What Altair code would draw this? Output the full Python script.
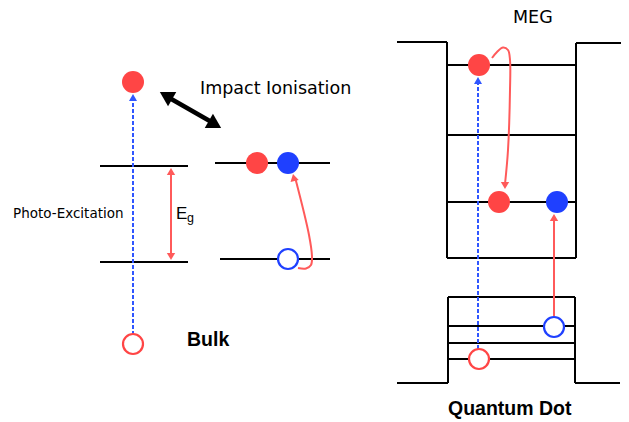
import altair as alt
import pandas as pd

RED = "#ff4545"
RED_LINE = "#ff5a5a"
BLUE = "#1f40ff"
BLUE_LINE = "#3056ff"

# ---- black energy levels and quantum-well walls (x1, y1, x2, y2) ----
lvl_x1 = [100, 100, 215, 220, 397, 447, 576, 576, 447, 447, 447, 447, 448, 448, 448, 448, 448, 575, 397, 575]
lvl_y1 = [166, 262, 163, 259, 42, 42, 43, 43, 65, 135, 202, 258, 297, 326, 343, 359, 297, 297, 383, 383]
lvl_x2 = [188, 188, 330, 330, 447, 447, 576, 628, 576, 576, 576, 576, 575, 575, 575, 575, 448, 575, 448, 620]
lvl_y2 = [166, 262, 163, 259, 42, 258, 258, 43, 65, 135, 202, 258, 297, 326, 343, 359, 383, 383, 383, 383]

# ---- photo-excitation (blue dashed) ----
pe_x1 = [133, 478]
pe_y1 = [335, 349]
pe_x2 = [133, 478]
pe_y2 = [98, 81]

# ---- straight red arrows (band gap, QD excitation) ----
rs_x1 = [171, 554]
rs_y1 = [172, 316]
rs_x2 = [171, 554]
rs_y2 = [256, 219]

# ---- curved red arrows ----
cv_path = ["imp"] * 6 + ["qd"] * 8
cv_seq = list(range(6)) + list(range(8))
cv_x = [298, 306, 311, 312, 309, 295.5]
cv_x += [492, 497, 503, 508, 510, 510, 508, 505]
cv_y = [268, 268.5, 265, 257, 235, 179]
cv_y += [58, 52, 47.5, 50, 60, 90, 150, 184]

# ---- impact ionisation double arrow ----
ii_x1 = [166]
ii_y1 = [96]
ii_x2 = [215]
ii_y2 = [124]
ii_hx = [166, 215]
ii_hy = [95.5, 124.5]
ii_ang = [300, 120]

# ---- arrowheads ----
red_hx = [171, 171, 293.8, 505, 554]
red_hy = [171.5, 256.5, 177.5, 185.5, 217.5]
red_ang = [0, 180, 347, 180, 0]
blue_hx = [133, 478]
blue_hy = [97.5, 80.5]

# ---- carriers ----
el_x = [133, 257, 479, 499]     # electrons (filled red)
el_y = [82, 163, 65, 202]
ho_x = [288, 557]               # filled blue
ho_y = [163, 202]
oh_x = [288, 554]               # open blue
oh_y = [259, 327]
or_x = [133, 479]               # open red
or_y = [344, 359]

# ---- labels ----
reg_text = ["Impact Ionisation", "MEG"]
reg_x = [200, 513]
reg_y = [94, 23]
small_text = ["Photo-Excitation"]
small_x = [13]
small_y = [218]
bold_text = ["Bulk", "Quantum Dot"]
bold_x = [187, 448]
bold_y = [346, 415]

xs = alt.Scale(domain=[8, 621], nice=False, zero=False)
ys = alt.Scale(domain=[8, 422], nice=False, zero=False, reverse=True)


def X(f):
    return alt.X(f, type="quantitative", scale=xs, axis=None)


def Y(f):
    return alt.Y(f, type="quantitative", scale=ys, axis=None)


def segs(x1, y1, x2, y2):
    return pd.DataFrame({"x": x1, "y": y1, "x2": x2, "y2": y2})


def pts(x, y, **kw):
    d = {"x": x, "y": y}
    d.update(kw)
    return pd.DataFrame(d)


def seg_layer(df, **mk):
    return alt.Chart(df).mark_rule(**mk).encode(
        x=X("x"), y=Y("y"), x2=alt.X2("x2"), y2=alt.Y2("y2")
    )


levels = seg_layer(segs(lvl_x1, lvl_y1, lvl_x2, lvl_y2), color="black", strokeWidth=2)
photo = seg_layer(segs(pe_x1, pe_y1, pe_x2, pe_y2), color=BLUE_LINE, strokeWidth=2, strokeDash=[4, 2])
rstraight = seg_layer(segs(rs_x1, rs_y1, rs_x2, rs_y2), color=RED_LINE, strokeWidth=2)
iiline = seg_layer(segs(ii_x1, ii_y1, ii_x2, ii_y2), color="black", strokeWidth=4.5)

curves = alt.Chart(pd.DataFrame({"p": cv_path, "s": cv_seq, "x": cv_x, "y": cv_y})).mark_line(
    interpolate="catmull-rom", color=RED_LINE, strokeWidth=2
).encode(x=X("x"), y=Y("y"), detail="p:N", order="s:Q")


def heads(x, y, ang, color, size):
    return alt.Chart(pts(x, y, a=ang)).mark_point(
        shape="triangle-up", filled=True, color=color, size=size, opacity=1
    ).encode(x=X("x"), y=Y("y"), angle=alt.Angle("a:Q", scale=None))


iiheads = heads(ii_hx, ii_hy, ii_ang, "black", 270)
redheads = heads(red_hx, red_hy, red_ang, RED_LINE, 70)
blueheads = heads(blue_hx, blue_hy, [0, 0], BLUE_LINE, 64)


def dots(x, y, color):
    return alt.Chart(pts(x, y)).mark_point(
        shape="circle", filled=True, color=color, size=484, opacity=1
    ).encode(x=X("x"), y=Y("y"))


def rings(x, y, color):
    return alt.Chart(pts(x, y)).mark_point(
        shape="circle", filled=True, fill="white", stroke=color, strokeWidth=2.2,
        size=400, opacity=1, fillOpacity=1
    ).encode(x=X("x"), y=Y("y"))


el = dots(el_x, el_y, RED)
ho = dots(ho_x, ho_y, BLUE)
oh = rings(oh_x, oh_y, BLUE)
orr = rings(or_x, or_y, RED)


def texts(t, x, y, **mk):
    return alt.Chart(pd.DataFrame({"t": t, "x": x, "y": y})).mark_text(
        align="left", baseline="alphabetic", color="black", **mk
    ).encode(x=X("x"), y=Y("y"), text="t:N")


reg = texts(reg_text, reg_x, reg_y, font="DejaVu Sans", fontSize=17.5)
small = texts(small_text, small_x, small_y, font="DejaVu Sans", fontSize=13.5)
bold = texts(bold_text, bold_x, bold_y, font="Liberation Sans", fontSize=19.5, fontWeight="bold")
eg_e = texts(["E"], [176], [219], font="Liberation Sans", fontSize=17)
eg_g = texts(["g"], [187], [222], font="Liberation Sans", fontSize=12.5)

chart = alt.layer(
    levels, photo, rstraight, curves, iiline,
    iiheads, redheads, blueheads,
    el, ho, oh, orr,
    reg, small, bold, eg_e, eg_g,
).properties(
    width=613, height=414, padding=0,
    autosize=alt.AutoSizeParams(type="none"),
    background="white",
).configure_view(strokeWidth=0)

chart.save("out.html", embed_options={"renderer": "svg", "actions": False})
